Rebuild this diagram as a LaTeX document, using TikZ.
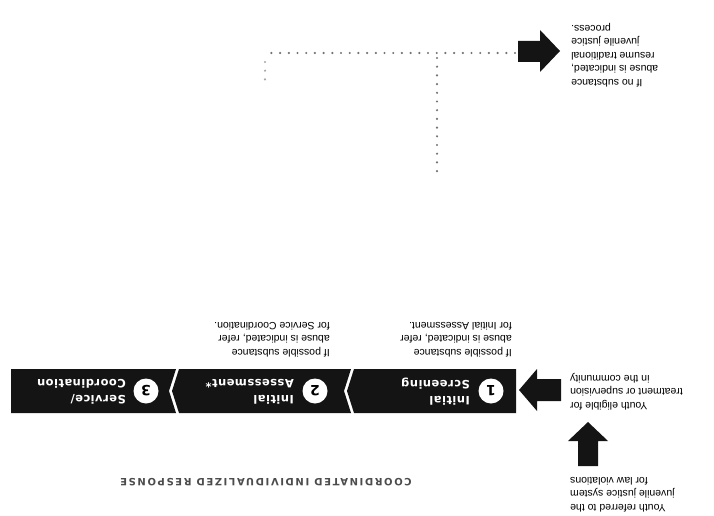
\documentclass[tikz,border=0pt]{standalone}
\usepackage{fontspec}
\setmainfont{Liberation Sans}
\newfontfamily\boxfont[LetterSpace=4]{DejaVu Sans}
\newfontfamily\titlefont[LetterSpace=16]{DejaVu Sans}
\begin{document}
\begin{tikzpicture}[x=1pt,y=-1pt,
  blk/.style={fill=black!92},
  body/.style={rotate=180, font=\fontsize{10.5}{13.5}\selectfont, text=black, inner sep=0pt},
  lbl/.style={rotate=180, font=\boxfont\bfseries\fontsize{11.5}{16}\selectfont, text=white, align=left, inner sep=0pt, anchor=west},
  num/.style={circle, fill=white, minimum size=25pt, inner sep=0pt, rotate=180, font=\boxfont\bfseries\fontsize{14}{14}\selectfont},
  dots/.style={draw=black!55, line width=2.4pt, line cap=round, dash pattern=on 0pt off 8.7pt}]
\useasboundingbox (0,0) rectangle (714,516);
% chevron boxes
\fill[blk] (516,369) -- (354,369) -- (347,391) -- (354,413) -- (516,413) -- cycle;
\fill[blk] (351,369) -- (179,369) -- (172,391) -- (179,413) -- (351,413) -- (344,391) -- cycle;
\fill[blk] (176,369) -- (11,369) -- (11,413) -- (176,413) -- (169,391) -- cycle;
% numbers
\node[num] (c1) at (491,391) {1};
\node[num] (c2) at (315,391) {2};
\node[num] (c3) at (146,391) {3};
% box labels
\node[lbl] (t1) at (470,392) {Initial\\Screening};
\node[lbl] (t2) at (294,392) {Initial\\Assessment*};
\node[lbl] (t3) at (126,392) {Service/\\Coordination};
% arrows
\fill[blk] (518,41) -- (540,41) -- (540,30) -- (560,51) -- (540,72) -- (540,62) -- (518,62) -- cycle;
\fill[blk] (561,379) -- (537,379) -- (537,369) -- (519,390) -- (537,411) -- (537,401) -- (561,401) -- cycle;
\fill[blk] (578,466) -- (578,441) -- (568,441) -- (588,422) -- (608,441) -- (598,441) -- (598,466) -- cycle;
% texts
\node[body, align=right, anchor=north east] (tr) at (571,87) {If no substance\\abuse is indicated,\\resume traditional\\juvenile justice\\process.};
\node[body, align=right, anchor=north east] (ye) at (570,410) {Youth eligible for\\treatment or supervision\\in the community};
\node[body, align=right, anchor=north east] (yr) at (570,512) {Youth referred to the\\juvenile justice system\\for law violations};
\node[body, align=left, anchor=north west] (s1) at (512,357) {If possible substance\\abuse is indicated, refer\\for Initial Assessment.};
\node[body, align=left, anchor=north west] (s2) at (330,357) {If possible substance\\abuse is indicated, refer\\for Service Coordination.};
\node[rotate=180, font=\titlefont\bfseries\fontsize{10}{12}\selectfont, text=black!70, inner sep=0pt] (title) at (266,482) {COORDINATED INDIVIDUALIZED RESPONSE};
% dotted lines
\coordinate (d1) at (265,53);
\coordinate (d2) at (515,53);
\coordinate (d3) at (437,58);
\coordinate (d4) at (437,173);
\coordinate (d5) at (265,62);
\coordinate (d6) at (265,85);
\draw[dots] (d2) -- (d1);
\draw[dots] (d3) -- (d4);
\draw[dots, draw=black!35] (d5) -- (d6);
\end{tikzpicture}
\end{document}
